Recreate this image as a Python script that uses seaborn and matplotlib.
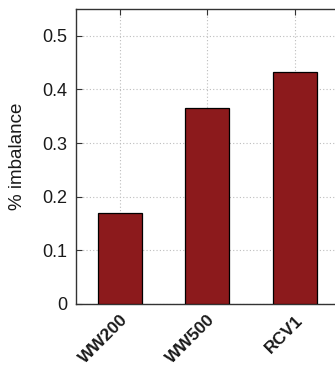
import matplotlib
matplotlib.use("Agg")
import matplotlib.pyplot as plt
import seaborn as sns
import pandas as pd

datasets = ["WW200", "WW500", "RCV1"]
imbalance = [0.170, 0.365, 0.433]

sns.set_theme(style="white")
plt.rcParams["font.family"] = ["Liberation Sans", "DejaVu Sans"]

df = pd.DataFrame({"dataset": datasets, "imbalance": imbalance})

fig = plt.figure(figsize=(3.35, 3.69), dpi=100)
ax = fig.add_axes([76 / 335, 65 / 369, 262.5 / 335, 295 / 369])

sns.barplot(data=df, x="dataset", y="imbalance", ax=ax, color="#8C1A1C",
            width=0.5, edgecolor="black", linewidth=0.9, saturation=1, zorder=3)

ax.set_xlim(-0.5, 2.5)
ax.set_ylim(0, 0.55)
ax.set_yticks([0, 0.1, 0.2, 0.3, 0.4, 0.5])
ax.set_yticklabels(["0", "0.1", "0.2", "0.3", "0.4", "0.5"])
ax.grid(True, linestyle=(0, (1, 2)), color="#bdbdbd", linewidth=0.8, zorder=0)
ax.set_axisbelow(True)

ax.tick_params(axis="both", direction="in", length=4, width=0.8, color="#333333",
               labelsize=13, labelcolor="#1a1a1a", top=True, right=False,
               bottom=True, left=True, pad=6)
for lbl in ax.get_xticklabels():
    lbl.set_rotation(45)
    lbl.set_ha("right")
    lbl.set_rotation_mode("anchor")
    lbl.set_fontweight("bold")
    lbl.set_fontsize(12.5)

ax.set_xlabel("")
ax.set_ylabel("% imbalance", fontsize=13.5, color="#1a1a1a", labelpad=12)

for s in ax.spines.values():
    s.set_visible(True)
    s.set_color("#333333")
    s.set_linewidth(1.0)

fig.savefig("out.png", dpi=100)
